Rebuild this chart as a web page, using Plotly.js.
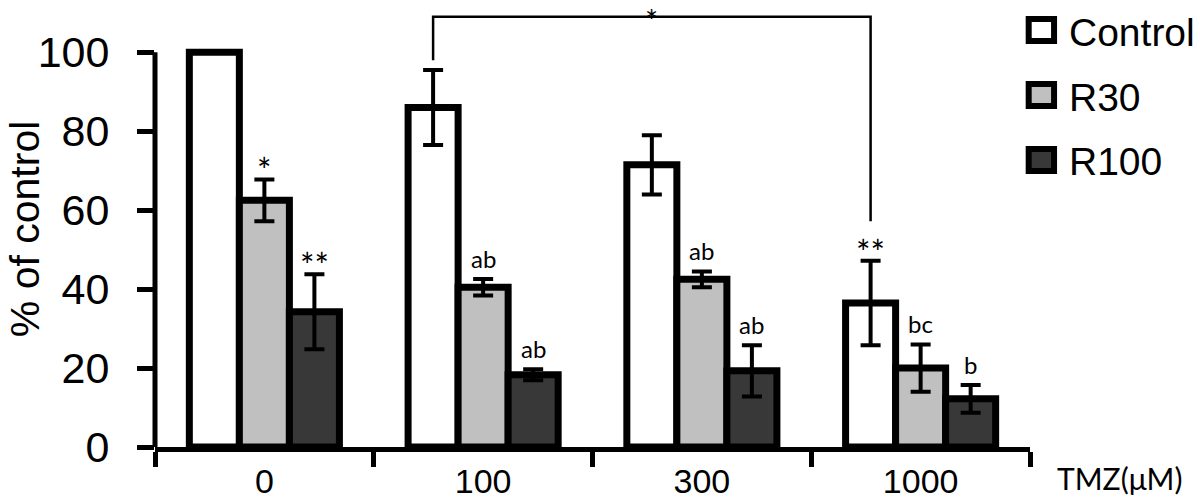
<!DOCTYPE html>
<html>
<head>
<meta charset="utf-8">
<script src="https://cdn.plot.ly/plotly-3.0.1.min.js"></script>
<style>
  html, body { margin: 0; padding: 0; background: #fff; }
  #chart { width: 1200px; height: 501px; }
</style>
</head>
<body>
<div id="chart"></div>
<script>
// TMZ concentrations (µM)
const doses = ['0', '100', '300', '1000'];

const seriesNames = ['Control', 'R30', 'R100'];
const seriesColors = ['#ffffff', '#c0c0c0', '#383838'];

// % of control
const controlVals = [100, 86, 71.5, 36.5];
const controlErr = [0, 9.5, 7.5, 10.7];
const r30Vals = [62.5, 40.5, 42.5, 20];
const r30Err = [5.3, 2.1, 2, 6];
const r100Vals = [34.3, 18.3, 19.3, 12.2];
const r100Err = [9.5, 1.4, 6.5, 3.5];

// significance marks above each bar
const controlMarks = ['', '', '', '**'];
const r30Marks = ['*', 'ab', 'ab', 'bc'];
const r100Marks = ['**', 'ab', 'ab', 'b'];

const yTicks = [0, 20, 40, 60, 80, 100];

const values = [controlVals, r30Vals, r100Vals];
const errors = [controlErr, r30Err, r100Err];
const marks = [controlMarks, r30Marks, r100Marks];

const bargap = 0.314;
const barW = (1 - bargap) / 3;   // bar width in category units
const markFont = 'Lato, "Open Sans", sans-serif';

const traces = seriesNames.map((name, s) => ({
  type: 'bar',
  name: name,
  x: doses,
  y: values[s],
  marker: { color: seriesColors[s], line: { color: '#000', width: 7 } },
  error_y: { type: 'data', array: errors[s], visible: true, color: '#000', thickness: 4, width: 10 },
  showlegend: false,
  hoverinfo: 'skip'
}));

const annotations = [];
seriesNames.forEach((name, s) => {
  doses.forEach((d, i) => {
    if (!marks[s][i]) return;
    const star = marks[s][i].indexOf('*') >= 0;
    annotations.push({
      x: i + (s - 1) * barW,
      y: values[s][i] + errors[s][i],
      xref: 'x', yref: 'y',
      text: marks[s][i],
      showarrow: false,
      yanchor: 'bottom',
      yshift: star ? -13 : 4,
      font: { family: markFont, size: star ? 34 : 24, color: '#000' }
    });
  });
});

// bracket: Control @100 vs Control @1000
const bracketTop = 109;
const leftX = 1 - barW, rightX = 3 - barW;
const leftBottom = controlVals[1] + controlErr[1] + 2.5;
const rightBottom = controlVals[3] + controlErr[3] + 10;

annotations.push({
  x: (leftX + rightX) / 2, y: bracketTop, xref: 'x', yref: 'y',
  text: '*', showarrow: false, yanchor: 'middle', yshift: -3,
  font: { family: markFont, size: 31, color: '#000' }
});

// axis titles
annotations.push({
  x: -0.1486, y: 0.495, xref: 'paper', yref: 'paper',
  xanchor: 'center', yanchor: 'middle', textangle: -90,
  text: '% of control', showarrow: false,
  font: { family: 'Liberation Sans, Arial, sans-serif', size: 41, color: '#000' }
});
annotations.push({
  x: 1.0286, y: -0.07, xref: 'paper', yref: 'paper',
  xanchor: 'left', yanchor: 'middle',
  text: 'TMZ(\u03bcM)', showarrow: false,
  font: { family: markFont, size: 30, color: '#000' }
});

const shapes = [
  // y axis line, only up to 100
  { type: 'line', xref: 'paper', yref: 'y', x0: 0, x1: 0, y0: 0, y1: 100,
    line: { color: '#000', width: 5 } },
  { type: 'path', xref: 'x', yref: 'y',
    path: `M${leftX},${leftBottom} L${leftX},${bracketTop} L${rightX},${bracketTop} L${rightX},${rightBottom}`,
    line: { color: '#000', width: 2.5 } }
];

// legend drawn by hand so the boxes match the figure
const legendY = [30, 95, 160];   // pixel centres in the original figure
const toPaperY = px => (447 - px) / 442;
seriesNames.forEach((name, s) => {
  shapes.push({
    type: 'rect', xref: 'paper', yref: 'paper',
    x0: 0.9985, x1: 1.0275,
    y0: toPaperY(legendY[s] + 11), y1: toPaperY(legendY[s] - 11),
    fillcolor: seriesColors[s], line: { color: '#000', width: 6 }
  });
  annotations.push({
    x: 1.0423, y: toPaperY(legendY[s] + 2), xref: 'paper', yref: 'paper',
    xanchor: 'left', yanchor: 'middle', text: name, showarrow: false,
    font: { family: 'Liberation Sans, Arial, sans-serif', size: 39, color: '#000' }
  });
});

const layout = {
  width: 1200,
  height: 501,
  margin: { l: 155, r: 170, t: 5, b: 54 },
  paper_bgcolor: '#fff',
  plot_bgcolor: '#fff',
  barmode: 'group',
  bargap: bargap,
  bargroupgap: 0,
  font: { family: 'Liberation Sans, Arial, sans-serif', color: '#000' },
  xaxis: {
    type: 'category',
    showline: true, linecolor: '#000', linewidth: 5,
    ticks: 'outside', tickson: 'boundaries', ticklen: 15, tickwidth: 5, tickcolor: '#000',
    tickfont: { size: 34 },
    showgrid: false, zeroline: false
  },
  yaxis: {
    range: [0, 112],
    tickvals: yTicks,
    ticks: 'outside', ticklen: 17, tickwidth: 5, tickcolor: '#000',
    ticklabelstandoff: 19,
    tickfont: { size: 43 },
    showline: false, showgrid: false, zeroline: false
  },
  shapes: shapes,
  annotations: annotations,
  showlegend: false
};

Plotly.newPlot('chart', traces, layout, { displayModeBar: false, staticPlot: true });
</script>
</body>
</html>
